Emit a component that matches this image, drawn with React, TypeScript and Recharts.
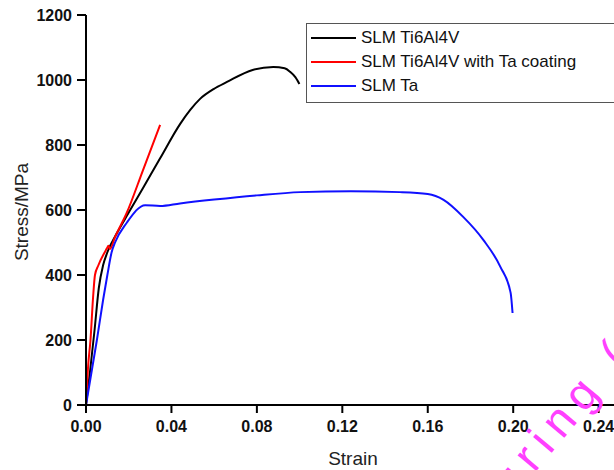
import { LineChart, Line, XAxis, YAxis, Legend } from 'recharts'

// strain / stress
const ti64Strain = [0, 0.002, 0.004, 0.006, 0.008, 0.01, 0.0145, 0.02, 0.0267, 0.0347, 0.0441, 0.0488, 0.0534, 0.0597, 0.066, 0.078, 0.0877, 0.093, 0.0956, 0.098, 0.0999]
const ti64Stress = [0, 110, 230, 360, 430, 470, 529, 592, 668, 759, 865, 908, 942, 972, 994, 1031, 1040, 1036, 1025, 1009, 988]

const coatedStrain = [0, 0.001, 0.0021, 0.0033, 0.0042, 0.0058, 0.0098, 0.0105, 0.0112, 0.0136, 0.019, 0.0267, 0.0347]
const coatedStress = [0, 120, 200, 330, 400, 430, 482, 490, 480, 517, 590, 723, 862]

const taStrain = [0, 0.0051, 0.008, 0.01, 0.012, 0.0136, 0.019, 0.0277, 0.0347, 0.044, 0.06, 0.08, 0.1003, 0.124, 0.147, 0.16, 0.1674, 0.1767, 0.186, 0.194, 0.1988, 0.1997]
const taStress = [0, 200, 323, 400, 470, 500, 560, 615, 612, 620, 632, 645, 655, 658, 655, 649, 631, 578, 508, 425, 345, 283]

const xMajor = [0, 0.04, 0.08, 0.12, 0.16, 0.2, 0.24]
const xMinor = [0.02, 0.06, 0.1, 0.14, 0.18, 0.22]
const yMajor = [0, 200, 400, 600, 800, 1000, 1200]
const yMinor = [100, 300, 500, 700, 900, 1100]

const seriesNames = ['SLM Ti6Al4V', 'SLM Ti6Al4V with Ta coating', 'SLM Ta']
const seriesColors = ['#000000', '#ff0000', '#1010ff']

const toPoints = (xs: number[], ys: number[]) => xs.map((x, i) => ({ x, y: ys[i] }))

const series = [
  toPoints(ti64Strain, ti64Stress),
  toPoints(coatedStrain, coatedStress),
  toPoints(taStrain, taStress),
]

const FONT = '"Liberation Sans", Arial, sans-serif'
const tickFont = { fontFamily: FONT, fontWeight: 'bold', fontSize: 16, fill: '#111' }
const tickStroke = { stroke: '#000', strokeWidth: 2 }

const XLabel = (props: any) => {
  const { viewBox } = props
  return (
    <text x={viewBox.x + viewBox.width / 2} y={465} textAnchor="middle" fontFamily={FONT} fontSize={19} fill="#222">
      Strain
    </text>
  )
}

const YLabel = (props: any) => {
  const { viewBox } = props
  const cy = viewBox.y + viewBox.height / 2 + 2
  return (
    <text x={28} y={cy} transform={`rotate(-90 28 ${cy})`} textAnchor="middle" fontFamily={FONT} fontSize={19} fill="#222">
      Stress/MPa
    </text>
  )
}

const LegendBox = () => (
  <div
    style={{
      border: '1px solid #555',
      borderRight: 'none',
      width: 320,
      padding: '2px 0 4px 4px',
      background: '#fff',
      fontFamily: FONT,
      fontSize: 17,
      color: '#111',
    }}
  >
    {seriesNames.map((name, i) => (
      <div key={name} style={{ display: 'flex', alignItems: 'center', height: 24 }}>
        <span style={{ display: 'inline-block', width: 45, height: 2, background: seriesColors[i], marginRight: 5 }} />
        {name}
      </div>
    ))}
  </div>
)

export default function App() {
  return (
    <div style={{ position: 'absolute', left: 0, top: 0, width: 614, height: 470, overflow: 'hidden', background: '#fff' }}>
      <LineChart width={620} height={470} margin={{ top: 15, right: 0, bottom: 0, left: 0 }}>
        <XAxis
          xAxisId="top"
          orientation="top"
          type="number"
          dataKey="x"
          domain={[0, 0.25]}
          height={0}
          tick={false}
          tickLine={false}
          axisLine={tickStroke}
        />
        <XAxis
          xAxisId="minor"
          type="number"
          dataKey="x"
          domain={[0, 0.25]}
          ticks={xMinor}
          interval={0}
          tickSize={5}
          tick={false}
          tickLine={tickStroke}
          axisLine={false}
          height={0}
        />
        <XAxis
          xAxisId="main"
          type="number"
          dataKey="x"
          domain={[0, 0.25]}
          ticks={xMajor}
          interval={0}
          tickSize={8}
          tickMargin={8}
          tickFormatter={(v: number) => v.toFixed(2)}
          tick={tickFont}
          tickLine={tickStroke}
          height={65}
          axisLine={tickStroke}
          label={{ content: XLabel }}
        />
        <YAxis
          yAxisId="minor"
          type="number"
          domain={[0, 1200]}
          ticks={yMinor}
          interval={0}
          tickSize={5}
          tick={false}
          tickLine={tickStroke}
          axisLine={false}
          width={0}
        />
        <YAxis
          yAxisId="main"
          type="number"
          domain={[0, 1200]}
          ticks={yMajor}
          interval={0}
          tickSize={9}
          tickMargin={5}
          tick={tickFont}
          tickLine={tickStroke}
          width={86}
          axisLine={tickStroke}
          label={{ content: YLabel }}
        />
        <Legend
          layout="horizontal"
          verticalAlign="middle"
          align="center"
          content={LegendBox}
          wrapperStyle={{ position: 'absolute', left: 306, top: 23, width: 320 }}
        />
        {series.map((data, i) => (
          <Line
            key={seriesNames[i]}
            name={seriesNames[i]}
            xAxisId="main"
            yAxisId="main"
            data={data}
            dataKey="y"
            type="monotone"
            stroke={seriesColors[i]}
            strokeWidth={2}
            dot={false}
            isAnimationActive={false}
          />
        ))}
      </LineChart>
      <svg width={614} height={470} style={{ position: 'absolute', left: 0, top: 0, pointerEvents: 'none' }}>
        <text
          x={512}
          y={500}
          transform="rotate(-50 512 500)"
          fontFamily={FONT}
          fontSize={46}
          letterSpacing={9}
          fill="#ff40ff"
        >
          uring (
        </text>
      </svg>
    </div>
  )
}
